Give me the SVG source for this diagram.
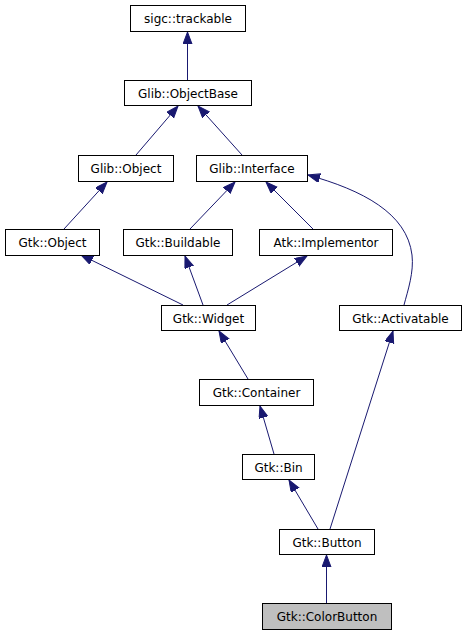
<svg xmlns="http://www.w3.org/2000/svg" width="467" height="635" viewBox="0 0 467 635">
<style>
.n rect{fill:#fff;stroke:#000;stroke-width:1}
.n text{font-family:"DejaVu Sans",sans-serif;font-size:12px;text-anchor:middle;fill:#000}
#colorbutton rect{fill:#bfbfbf}
.e{stroke:#191970;stroke-width:1;fill:none;marker-end:url(#ah)}
</style>
<defs>
<marker id="ah" markerUnits="userSpaceOnUse" markerWidth="14" markerHeight="11" refX="12" refY="4.5" orient="auto">
<path d="M0,0 L12,4.5 L0,9 z" fill="#191970" stroke="#191970" stroke-width="1"/>
</marker>
</defs>
<rect width="467" height="635" fill="#fff"/>
<g id="edges">
<line class="e" x1="187.5" y1="80" x2="187.5" y2="32"/>
<line class="e" x1="136" y1="155" x2="178" y2="106"/>
<line class="e" x1="242" y1="155" x2="198" y2="106"/>
<line class="e" x1="64" y1="229" x2="107" y2="182"/>
<line class="e" x1="190" y1="229" x2="235" y2="182"/>
<line class="e" x1="313" y1="229" x2="266" y2="182"/>
<path class="e" d="M404,305 C408,290 414,272 412,255 C407,213 362,190 308,175"/>
<line class="e" x1="183" y1="305" x2="81" y2="255"/>
<line class="e" x1="203" y1="305" x2="185" y2="256"/>
<line class="e" x1="227" y1="305" x2="307" y2="256"/>
<line class="e" x1="248" y1="379" x2="219" y2="331"/>
<line class="e" x1="274" y1="454" x2="260" y2="406"/>
<line class="e" x1="318" y1="529" x2="289" y2="480"/>
<line class="e" x1="330" y1="529" x2="393" y2="331"/>
<line class="e" x1="326.5" y1="603" x2="326.5" y2="555"/>
</g>
<g id="trackable" class="n"><rect x="130.5" y="5.5" width="115" height="26"/><text x="188" y="23">sigc::trackable</text></g>
<g id="objectbase" class="n"><rect x="124.5" y="80.5" width="127" height="25"/><text x="188" y="97.5">Glib::ObjectBase</text></g>
<g id="glibobject" class="n"><rect x="78.5" y="155.5" width="95" height="26"/><text x="126" y="173">Glib::Object</text></g>
<g id="interface" class="n"><rect x="196.5" y="155.5" width="111" height="26"/><text x="252" y="173">Glib::Interface</text></g>
<g id="gtkobject" class="n"><rect x="5.5" y="229.5" width="94" height="26"/><text x="52.5" y="247">Gtk::Object</text></g>
<g id="buildable" class="n"><rect x="123.5" y="229.5" width="109" height="26"/><text x="178" y="247">Gtk::Buildable</text></g>
<g id="implementor" class="n"><rect x="259.5" y="229.5" width="133" height="26"/><text x="326" y="247">Atk::Implementor</text></g>
<g id="widget" class="n"><rect x="161.5" y="305.5" width="94" height="25"/><text x="208.5" y="322.5">Gtk::Widget</text></g>
<g id="activatable" class="n"><rect x="339.5" y="305.5" width="122" height="25"/><text x="400.5" y="322.5">Gtk::Activatable</text></g>
<g id="container" class="n"><rect x="199.5" y="379.5" width="114" height="26"/><text x="256.5" y="397">Gtk::Container</text></g>
<g id="bin" class="n"><rect x="242.5" y="454.5" width="72" height="25"/><text x="278.5" y="471.5">Gtk::Bin</text></g>
<g id="button" class="n"><rect x="279.5" y="529.5" width="95" height="25"/><text x="327" y="546.5">Gtk::Button</text></g>
<g id="colorbutton" class="n"><rect x="262.5" y="603.5" width="129" height="26"/><text x="327" y="621">Gtk::ColorButton</text></g>
</svg>
